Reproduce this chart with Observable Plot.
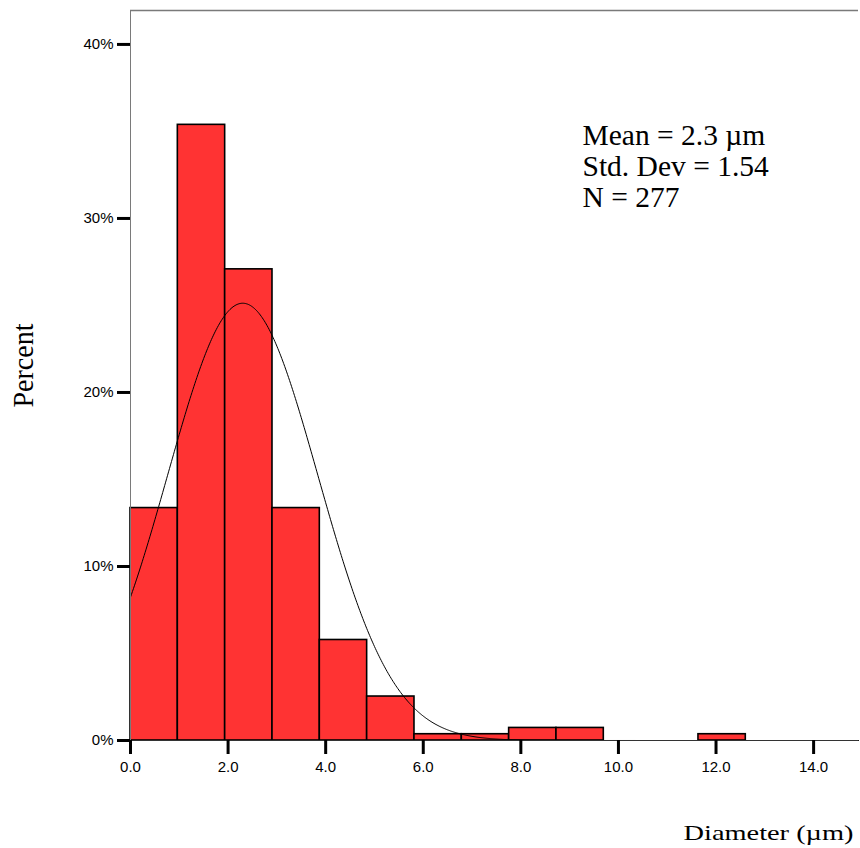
<!DOCTYPE html>
<html>
<head>
<meta charset="utf-8">
<script src="https://cdn.jsdelivr.net/npm/d3@7"></script>
<script src="https://cdn.jsdelivr.net/npm/@observablehq/plot@0.6"></script>
<style>
  html, body { margin: 0; padding: 0; background: #fff; }
</style>
</head>
<body>
<div id="chart"></div>
<script>
// ---- data ----
const binWidth = 0.97;
const binStarts = [0, 0.97, 1.94, 2.91, 3.88, 4.85, 5.82, 6.79, 7.76, 8.73, 9.70, 10.67, 11.64];
const counts    = [37, 98, 75, 37, 16, 7, 1, 1, 2, 2, 0, 0, 1];
const N = 277;
const mean = 2.3;
const sd = 1.54;
const xTicks = [0, 2, 4, 6, 8, 10, 12, 14];
const yTicks = [0, 10, 20, 30, 40];
const statsLines = ["Mean = 2.3 \u00b5m", "Std. Dev = 1.54", "N = 277"];
const xLabel = "Diameter (\u00b5m)";
const yLabel = "Percent";

const xMax = 14.92;
const yMax = 41.95;

const bars = binStarts.map((s, i) => ({x1: s, x2: s + binWidth, pct: counts[i] / N * 100}))
  .filter(d => d.pct > 0);

// fitted normal curve (from the stated mean and std. dev.), scaled to percent per bin
const curve = d3.range(0, xMax + 0.001, 0.02).map(x => ({
  x,
  y: 100 * binWidth / (sd * Math.sqrt(2 * Math.PI)) * Math.exp(-((x - mean) ** 2) / (2 * sd * sd))
}));

const chart = Plot.plot({
  width: 860,
  height: 848,
  marginLeft: 130,
  marginRight: 2,
  marginTop: 10,
  marginBottom: 108,
  style: {fontFamily: "'Liberation Sans', Arial, sans-serif", background: "#fff"},
  x: {domain: [0, xMax]},
  y: {domain: [0, yMax]},
  marks: [
    Plot.rectY(bars, {x1: "x1", x2: "x2", y: "pct", fill: "#ff3333", stroke: "#000", strokeWidth: 1.6}),
    Plot.line(curve, {x: "x", y: "y", stroke: "#000", strokeWidth: 1, curve: "linear"}),
    Plot.ruleX([0], {stroke: "#7a7a7a", strokeWidth: 1}),
    Plot.ruleY([yMax], {stroke: "#7a7a7a", strokeWidth: 1.5}),
    Plot.ruleY([0], {stroke: "#333", strokeWidth: 1}),
    Plot.axisX(xTicks, {tickFormat: d3.format(".1f"), tickSize: 14, tickPadding: 7, strokeWidth: 3, fontSize: 15, fill: "#000", label: null}),
    Plot.axisY(yTicks, {tickFormat: d => d + "%", tickSize: 13, tickPadding: 4, strokeWidth: 3, fontSize: 15, fill: "#000", label: null}),
    Plot.text([statsLines.join("\n")], {
      frameAnchor: "top-left", dx: 452, dy: 113, text: d => d,
      textAnchor: "start", lineAnchor: "top", lineHeight: 1.04,
      fontSize: 29.5, fontFamily: "'Liberation Serif', 'Times New Roman', serif", fill: "#000"
    }),
    Plot.text([xLabel], {
      frameAnchor: "bottom-right", dx: -5, dy: 92, text: d => d,
      textAnchor: "end", lineAnchor: "middle",
      fontSize: 22, fontFamily: "'Liberation Serif', 'Times New Roman', serif", fill: "#000"
    }),
    Plot.text([yLabel], {
      frameAnchor: "left", dx: -106.3, dy: -10, text: d => d, rotate: -90,
      textAnchor: "middle", lineAnchor: "middle",
      fontSize: 29, fontFamily: "'Liberation Serif', 'Times New Roman', serif", fill: "#000"
    })
  ]
});

// stretch the axis titles to the reference proportions
chart.querySelectorAll("text").forEach(t => {
  if (t.textContent === xLabel) { t.setAttribute("textLength", 170); t.setAttribute("lengthAdjust", "spacingAndGlyphs"); }
  if (t.textContent === yLabel) { t.setAttribute("textLength", 84); t.setAttribute("lengthAdjust", "spacingAndGlyphs"); }
});

document.getElementById("chart").appendChild(chart);
</script>
</body>
</html>
